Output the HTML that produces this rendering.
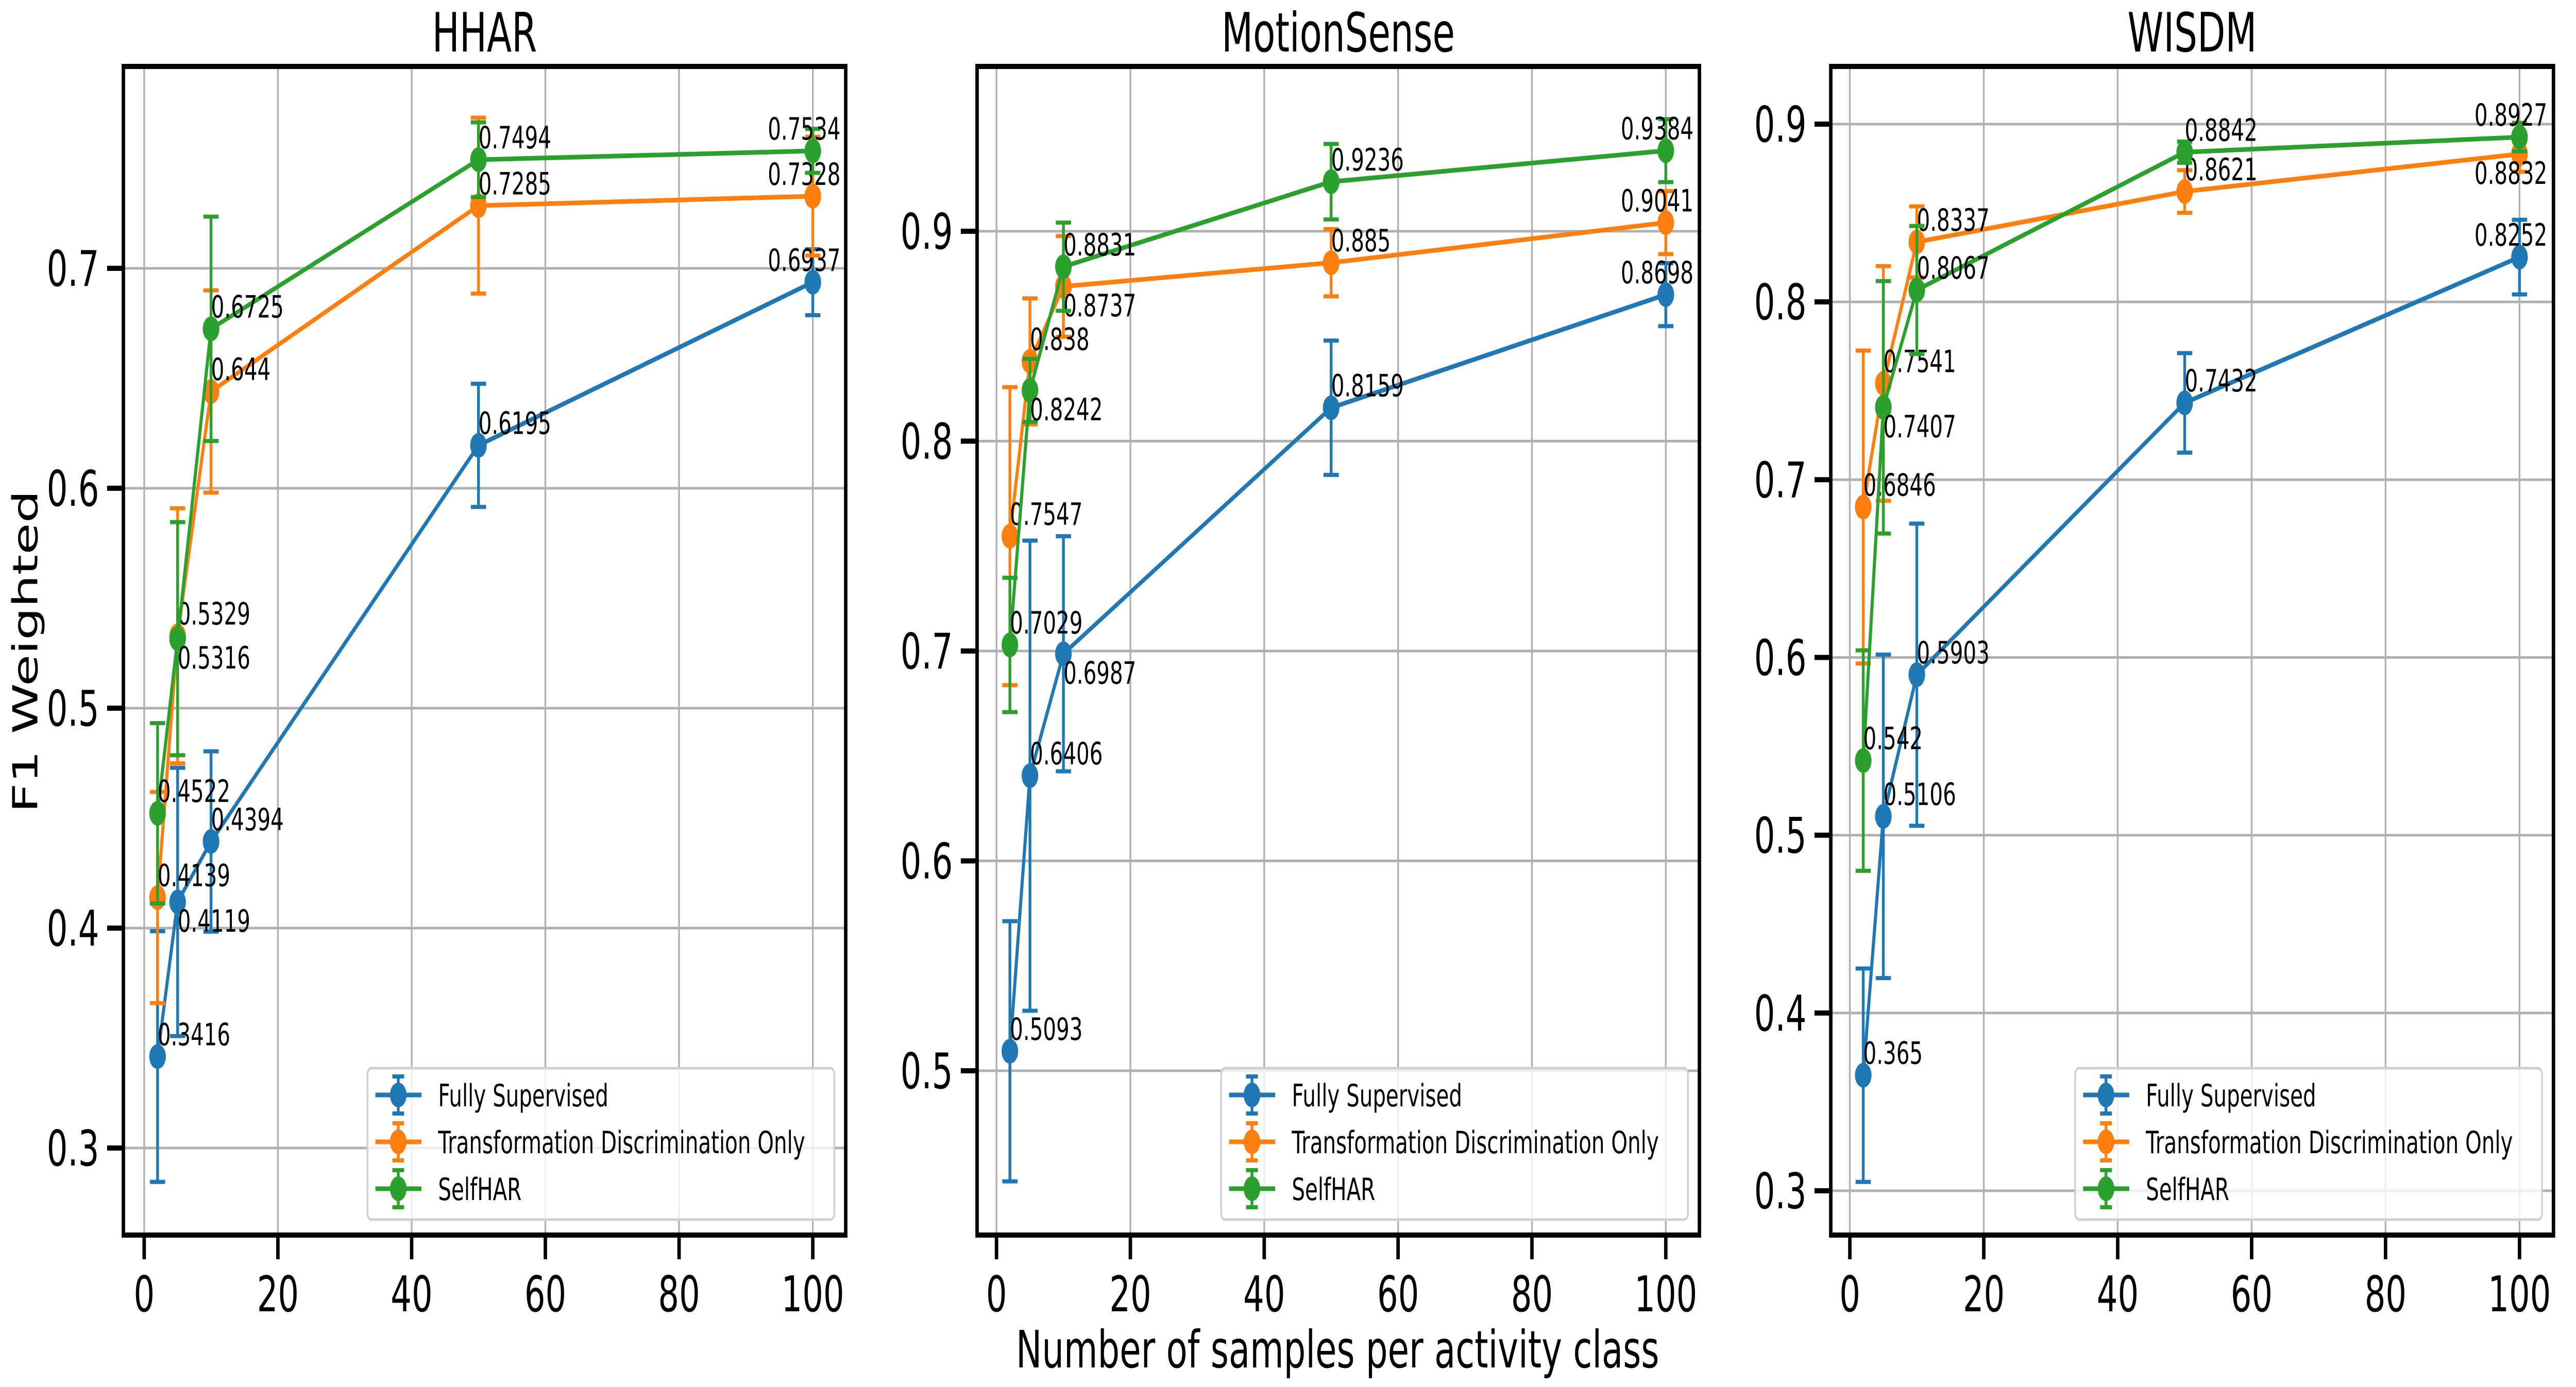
<!DOCTYPE html>
<html><head><meta charset="utf-8"><style>
html,body{margin:0;padding:0;background:#fff;width:100%;height:100%;overflow:hidden}
svg{display:block;width:100vw;height:100vh}
text{font-family:"DejaVu Sans","Liberation Sans",sans-serif}
</style></head><body>
<svg id="fig" viewBox="0 0 7432 2693" preserveAspectRatio="none" xmlns="http://www.w3.org/2000/svg"></svg>
<script>
const xValues = [2, 5, 10, 50, 100];
const xTicks = [0, 20, 40, 60, 80, 100];
const seriesNames = ["Fully Supervised", "Transformation Discrimination Only", "SelfHAR"];
const seriesColors = ["#1f77b4", "#ff7f0e", "#2ca02c"];

const hharTitle = "HHAR";
const hharYTicks = [0.3, 0.4, 0.5, 0.6, 0.7];
const hharFully = [0.3416, 0.4119, 0.4394, 0.6195, 0.6937];
const hharTrans = [0.4139, 0.5329, 0.644, 0.7285, 0.7328];
const hharSelf = [0.4522, 0.5316, 0.6725, 0.7494, 0.7534];
const hharFullyErr = [0.057, 0.061, 0.041, 0.028, 0.015];
const hharTransErr = [0.048, 0.058, 0.046, 0.040, 0.027];
const hharSelfErr = [0.041, 0.053, 0.051, 0.017, 0.010];
const hharFullyBelow = [false, true, false, false, false];
const hharTransBelow = [false, false, false, false, false];
const hharSelfBelow = [false, true, false, false, false];

const msTitle = "MotionSense";
const msYTicks = [0.5, 0.6, 0.7, 0.8, 0.9];
const msFully = [0.5093, 0.6406, 0.6987, 0.8159, 0.8698];
const msTrans = [0.7547, 0.838, 0.8737, 0.885, 0.9041];
const msSelf = [0.7029, 0.8242, 0.8831, 0.9236, 0.9384];
const msFullyErr = [0.062, 0.112, 0.056, 0.032, 0.015];
const msTransErr = [0.071, 0.030, 0.024, 0.016, 0.015];
const msSelfErr = [0.032, 0.015, 0.021, 0.018, 0.015];
const msFullyBelow = [false, false, true, false, false];
const msTransBelow = [false, false, true, false, false];
const msSelfBelow = [false, true, false, false, false];

const wTitle = "WISDM";
const wYTicks = [0.3, 0.4, 0.5, 0.6, 0.7, 0.8, 0.9];
const wFully = [0.365, 0.5106, 0.5903, 0.7432, 0.8252];
const wTrans = [0.6846, 0.7541, 0.8337, 0.8621, 0.8832];
const wSelf = [0.542, 0.7407, 0.8067, 0.8842, 0.8927];
const wFullyErr = [0.060, 0.091, 0.085, 0.028, 0.021];
const wTransErr = [0.088, 0.066, 0.020, 0.012, 0.010];
const wSelfErr = [0.062, 0.071, 0.036, 0.006, 0.008];
const wFullyBelow = [false, false, false, false, false];
const wTransBelow = [false, false, false, false, true];
const wSelfBelow = [false, true, false, false, false];

const NS = "http://www.w3.org/2000/svg";
const svg = document.getElementById("fig");
function mk(tag, attrs, parent) {
  const e = document.createElementNS(NS, tag);
  for (const k in attrs) e.setAttribute(k, attrs[k]);
  (parent || svg).appendChild(e);
  return e;
}
function fmt(v){ return String(v); }

function panel(cfg) {
  const g = mk("g", {});
  
  
  const L = cfg.left, R = cfg.right, T = 129, B = 2398;
  const sx = v => cfg.x0 + (v - 0) * (cfg.x100 - cfg.x0) / 100;
  const sy = v => cfg.ya + (v - cfg.va) * (cfg.yb - cfg.ya) / (cfg.vb - cfg.va);
  xTicks.forEach(t => {
    const l = mk("line", {x1: sx(t), x2: sx(t), y1: T, y2: B, stroke: "#b0b0b0", "stroke-width": 5}, g);
    
    
  });
  cfg.yTicks.forEach(t => {
    const l = mk("line", {x1: L, x2: R, y1: sy(t), y2: sy(t), stroke: "#b0b0b0", "stroke-width": 5}, g);
    
    
  });
  const series = [cfg.fully, cfg.trans, cfg.self];
  const errs = [cfg.fullyErr, cfg.transErr, cfg.selfErr];
  const below = [cfg.fullyBelow, cfg.transBelow, cfg.selfBelow];
  const keys = ["fully-supervised", "transformation-only", "selfhar"];
  series.forEach((vals, si) => {
    const c = seriesColors[si];
    const sg = mk("g", {}, g);
    
    
    vals.forEach((v, i) => {
      const x = sx(xValues[i]);
      const e = errs[si][i];
      const eb = mk("line", {x1: x, x2: x, y1: sy(v - e), y2: sy(v + e), stroke: c, "stroke-width": 8}, sg);
      
      
      [v - e, v + e].forEach(cv => {
        const cp = mk("line", {x1: x - 22, x2: x + 22, y1: sy(cv), y2: sy(cv), stroke: c, "stroke-width": 8}, sg);
        
        
      });
    });
    const pts = vals.map((v, i) => sx(xValues[i]) + "," + sy(v)).join(" ");
    const pl = mk("polyline", {points: pts, fill: "none", stroke: c, "stroke-width": 9, "stroke-linejoin": "round"}, sg);
    
    
    vals.forEach((v, i) => {
      const m = mk("circle", {cx: sx(xValues[i]), cy: sy(v), r: 24, fill: c}, sg);
      
      
    });
    vals.forEach((v, i) => {
      const x = sx(xValues[i]);
      const last = xValues[i] === 100;
      const t = mk("text", {x: last ? x - 25 : x, y: sy(v) + (below[si][i] ? 58 : -22), "font-size": 60, fill: "#000", "text-anchor": last ? "middle" : "start"}, sg);
      t.textContent = fmt(v);
      
      
    });
  });
  const fr = mk("rect", {x: L, y: T, width: R - L, height: B - T, fill: "none", stroke: "#000", "stroke-width": 10}, g);
  
  
  xTicks.forEach(t => {
    const tk = mk("line", {x1: sx(t), x2: sx(t), y1: B, y2: B + 47, stroke: "#000", "stroke-width": 10}, g);
    
    
    const tl = mk("text", {x: sx(t), y: B + 148, "font-size": 95, "text-anchor": "middle", fill: "#000"}, g);
    tl.textContent = t;
    
    
  });
  cfg.yTicks.forEach(t => {
    const tk = mk("line", {x1: L - 47, x2: L, y1: sy(t), y2: sy(t), stroke: "#000", "stroke-width": 10}, g);
    
    
    const tl = mk("text", {x: L - 70, y: sy(t) + 34, "font-size": 95, "text-anchor": "end", fill: "#000"}, g);
    tl.textContent = t.toFixed(1);
    
    
  });
  const ti = mk("text", {x: (L + R) / 2, y: 100, "font-size": 105, "text-anchor": "middle", fill: "#000"}, g);
  ti.textContent = cfg.title;
  
  
  const lg = mk("g", {}, g);
  
  
  const lx = R - 33 - 1347;
  const lb = mk("rect", {x: lx, y: 2074, width: 1347, height: 294, rx: 12, fill: "rgba(255,255,255,0.8)", stroke: "#d0d0d0", "stroke-width": 5}, lg);
  
  
  seriesNames.forEach((n, si) => {
    const y = 2126 + si * 91;
    const c = seriesColors[si];
    const eg = mk("g", {}, lg);
    
    
    mk("line", {x1: lx + 23, x2: lx + 156, y1: y, y2: y, stroke: c, "stroke-width": 9}, eg);
    mk("line", {x1: lx + 89, x2: lx + 89, y1: y - 36, y2: y + 36, stroke: c, "stroke-width": 8}, eg);
    mk("line", {x1: lx + 72, x2: lx + 106, y1: y - 36, y2: y - 36, stroke: c, "stroke-width": 8}, eg);
    mk("line", {x1: lx + 72, x2: lx + 106, y1: y + 36, y2: y + 36, stroke: c, "stroke-width": 8}, eg);
    mk("circle", {cx: lx + 89, cy: y, r: 24, fill: c}, eg);
    const t = mk("text", {x: lx + 204, y: y + 22, "font-size": 60, fill: "#000"}, eg);
    t.textContent = n;
  });
}

panel({name: "hhar-panel", title: hharTitle, left: 356, right: 2440, x0: 416, x100: 2345,
  ya: 521, va: 0.7, yb: 2229, vb: 0.3, yTicks: hharYTicks,
  fully: hharFully, trans: hharTrans, self: hharSelf,
  fullyErr: hharFullyErr, transErr: hharTransErr, selfErr: hharSelfErr,
  fullyBelow: hharFullyBelow, transBelow: hharTransBelow, selfBelow: hharSelfBelow});
panel({name: "motionsense-panel", title: msTitle, left: 2819, right: 4903, x0: 2875, x100: 4806,
  ya: 449, va: 0.9, yb: 2079, vb: 0.5, yTicks: msYTicks,
  fully: msFully, trans: msTrans, self: msSelf,
  fullyErr: msFullyErr, transErr: msTransErr, selfErr: msSelfErr,
  fullyBelow: msFullyBelow, transBelow: msTransBelow, selfBelow: msSelfBelow});
panel({name: "wisdm-panel", title: wTitle, left: 5282, right: 7367, x0: 5337, x100: 7269,
  ya: 241, va: 0.9, yb: 2312, vb: 0.3, yTicks: wYTicks,
  fully: wFully, trans: wTrans, self: wSelf,
  fullyErr: wFullyErr, transErr: wTransErr, selfErr: wSelfErr,
  fullyBelow: wFullyBelow, transBelow: wTransBelow, selfBelow: wSelfBelow});

const yl = mk("text", {x: 0, y: 0, "font-size": 100, "text-anchor": "middle", fill: "#000", transform: "translate(108,1265) rotate(-90)"});
yl.textContent = "F1 Weighted";


const xl = mk("text", {x: 3859, y: 2655, "font-size": 100, "text-anchor": "middle", fill: "#000"});
xl.textContent = "Number of samples per activity class";


</script>
</body></html>
